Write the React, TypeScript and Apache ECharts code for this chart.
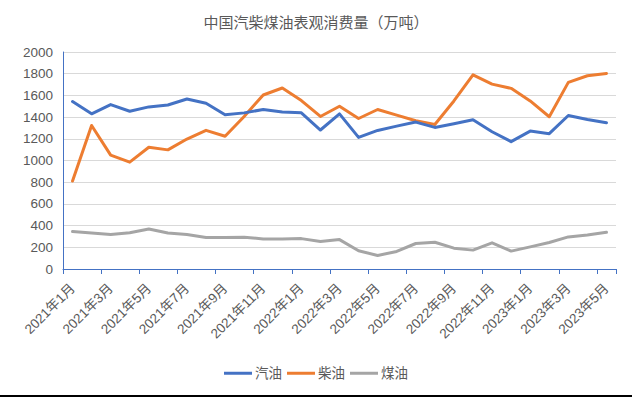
import React, { useEffect, useRef } from "react";
import * as echarts from "echarts";

const months: string[] = [];
for (const y of [2021, 2022, 2023]) {
  for (let m = 1; m <= 12; m++) {
    if (y === 2023 && m > 5) break;
    months.push(`${y}年${m}月`);
  }
}

const gasoline = [1543, 1430, 1515, 1454, 1494, 1512, 1567, 1528, 1421, 1439, 1470, 1448, 1439, 1281, 1430, 1213, 1277, 1317, 1354, 1305, 1338, 1375, 1265, 1174, 1271, 1247, 1415, 1378, 1348];
const diesel = [811, 1323, 1049, 985, 1122, 1098, 1198, 1278, 1223, 1406, 1604, 1668, 1552, 1406, 1500, 1387, 1470, 1418, 1366, 1332, 1549, 1790, 1704, 1665, 1549, 1403, 1720, 1781, 1802];
const kerosene = [345, 332, 317, 335, 369, 332, 317, 290, 290, 293, 277, 277, 280, 253, 271, 168, 125, 162, 235, 247, 192, 174, 241, 165, 204, 244, 296, 314, 338];

const seriesNames = ["汽油", "柴油", "煤油"];
const colors = ["#4472C4", "#ED7D31", "#A5A5A5"];

const FONT = "'Liberation Sans', 'Noto Sans CJK SC', sans-serif";

export default function App() {
  const ref = useRef<HTMLDivElement>(null);
  useEffect(() => {
    document.body.style.margin = "0";
    if (!ref.current) return;
    const chart = echarts.init(ref.current, null, { renderer: "svg" });
    const data = [gasoline, diesel, kerosene];
    chart.setOption({
      animation: false,
      backgroundColor: "#ffffff",
      title: {
        text: "中国汽柴煤油表观消费量（万吨）",
        left: "center",
        top: 10,
        textStyle: { fontSize: 15, fontWeight: "normal", color: "#595959", fontFamily: FONT },
      },
      legend: {
        data: seriesNames,
        bottom: 10,
        left: "center",
        icon: "rect",
        itemWidth: 28,
        itemHeight: 3,
        itemGap: 5,
        textStyle: { fontSize: 13.5, color: "#595959", fontFamily: FONT, padding: [0, 0, 0, -2] },
      },
      grid: { left: 63, right: 16, top: 52, bottom: 126, containLabel: false },
      xAxis: {
        type: "category",
        data: months,
        boundaryGap: true,
        axisLine: { show: true, lineStyle: { color: "#4472C4", width: 1 } },
        axisTick: { show: true, interval: 1, length: 5, lineStyle: { color: "#4472C4" } },
        axisLabel: {
          interval: 1,
          rotate: 45,
          fontSize: 13.5,
          color: "#595959",
          fontFamily: FONT,
          margin: 17,
        },
        splitLine: { show: false },
      },
      yAxis: {
        type: "value",
        min: 0,
        max: 2000,
        interval: 200,
        axisLine: { show: true, lineStyle: { color: "#4472C4", width: 1 } },
        axisTick: { show: false },
        axisLabel: {
          fontSize: 13.5,
          color: "#595959",
          fontFamily: FONT,
          margin: 10,
          formatter: (v: number) => String(v),
        },
        splitLine: { show: true, lineStyle: { color: "#D9D9D9", width: 1 } },
      },
      series: seriesNames.map((name, i) => ({
        name,
        type: "line",
        data: data[i],
        showSymbol: false,
        symbol: "none",
        smooth: false,
        lineStyle: { color: colors[i], width: 3, cap: "round", join: "round" },
        itemStyle: { color: colors[i] },
        z: 3 - i,
      })),
    });
    return () => chart.dispose();
  }, []);
  return (
    <div
      style={{
        width: 632,
        height: 397,
        boxSizing: "border-box",
        borderLeft: "2px solid #000",
        borderRight: "2px solid #000",
        borderBottom: "2px solid #000",
        position: "relative",
      }}
    >
      <div ref={ref} style={{ position: "absolute", left: -2, top: 0, width: 632, height: 395 }} />
    </div>
  );
}
